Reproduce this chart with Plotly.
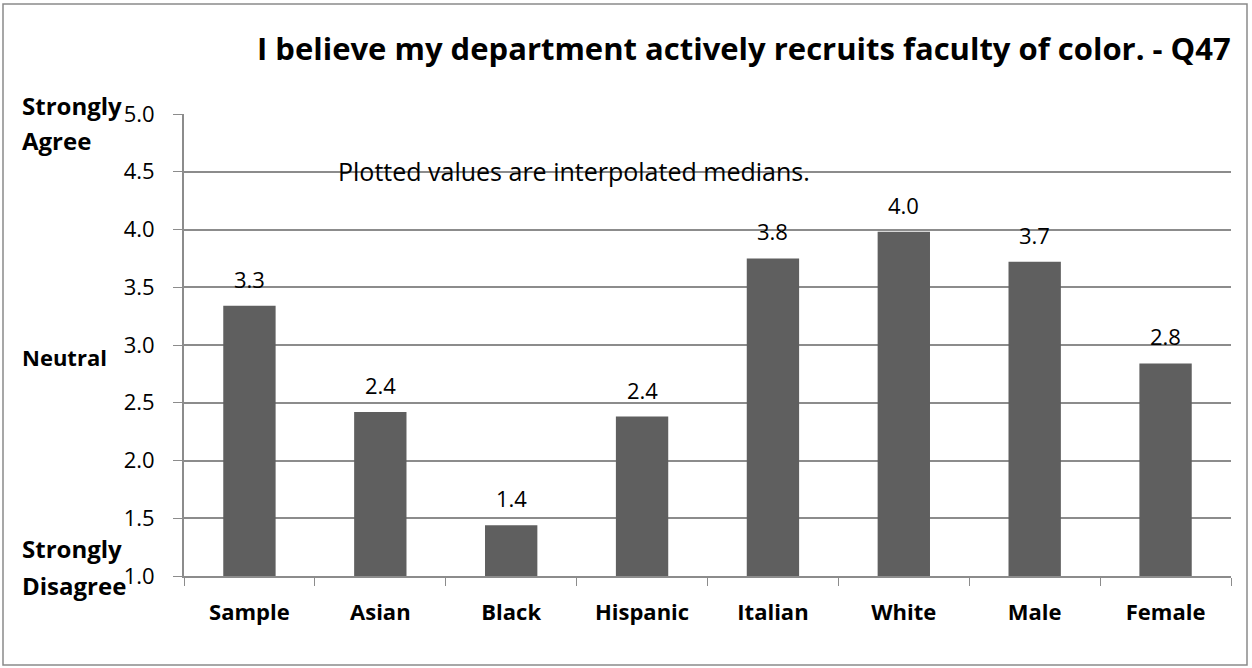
import plotly.graph_objects as go

categories = ["Sample", "Asian", "Black", "Hispanic", "Italian", "White", "Male", "Female"]
values = [3.34, 2.42, 1.44, 2.38, 3.75, 3.98, 3.72, 2.84]
value_labels = ["3.3", "2.4", "1.4", "2.4", "3.8", "4.0", "3.7", "2.8"]
y_ticks = [1.0, 1.5, 2.0, 2.5, 3.0, 3.5, 4.0, 4.5, 5.0]
title_text = "I believe my department actively recruits faculty of color. - Q47"
note_text = "Plotted values are interpolated medians."
side_labels = [("Strongly", 105, 24), ("Agree", 140, 24), ("Neutral", 357, 22),
               ("Strongly", 548, 24), ("Disagree", 585, 24)]

W, H = 1252, 668
L, R, T, B = 184, 1252 - 1231, 114, 668 - 576
pw, ph = W - L - R, H - T - B

def px_x(p):
    return (p - L) / pw

def px_y(p):
    return 1 - (p - T) / ph

FONT = "Open Sans"
GRID = "#8c8c8c"

fig = go.Figure()
fig.add_trace(go.Bar(
    x=categories, y=values, marker=dict(color="#5f5f5f", line=dict(width=0)),
    width=0.4, hoverinfo="x+y", showlegend=False,
))

annotations = []
for c, v, lab in zip(categories, values, value_labels):
    annotations.append(dict(x=c, y=v, text=lab, showarrow=False, yshift=27,
                            font=dict(family=FONT, size=22, color="#000")))

annotations.append(dict(xref="paper", yref="paper", x=px_x(744), y=px_y(48), text="<b>" + title_text + "</b>",
                        showarrow=False, font=dict(family=FONT, size=31, color="#000"), xanchor="center", yanchor="middle"))
annotations.append(dict(xref="paper", yref="paper", x=px_x(574), y=px_y(171), text=note_text,
                        showarrow=False, font=dict(family=FONT, size=25, color="#000"), xanchor="center", yanchor="middle"))
for txt, yy, sz in side_labels:
    annotations.append(dict(xref="paper", yref="paper", x=px_x(20), y=px_y(yy), text="<b>" + txt + "</b>",
                            showarrow=False, align="left", font=dict(family=FONT, size=sz, color="#000"),
                            xanchor="left", yanchor="middle"))

fig.update_layout(
    width=W, height=H,
    margin=dict(l=L, r=R, t=T, b=B),
    paper_bgcolor="white", plot_bgcolor="white",
    annotations=annotations,
    shapes=[dict(type="rect", xref="paper", yref="paper",
                 x0=px_x(3), x1=px_x(1247), y0=px_y(4), y1=px_y(665),
                 line=dict(color="#8a8a8a", width=1.5), fillcolor="rgba(0,0,0,0)", layer="below")],
    xaxis=dict(
        type="category", tickson="boundaries", ticks="outside", ticklen=8, tickcolor=GRID,
        showline=True, linecolor=GRID, linewidth=2, showgrid=False,
        tickfont=dict(family=FONT, size=22, color="#000", weight="bold"),
        ticklabelstandoff=16,
    ),
    yaxis=dict(
        range=[1, 5], tickvals=y_ticks, tickformat=".1f", ticks="outside", ticklen=9, tickcolor=GRID,
        showline=True, linecolor=GRID, linewidth=2, showgrid=True, gridcolor=GRID, gridwidth=1.5,
        zeroline=False, tickfont=dict(family=FONT, size=22, color="#000"),
        ticklabelstandoff=14,
    ),
)

fig.write_html("out.html", config={"displayModeBar": False},
               post_script="document.body.style.margin='0';document.body.style.overflow='hidden';")
